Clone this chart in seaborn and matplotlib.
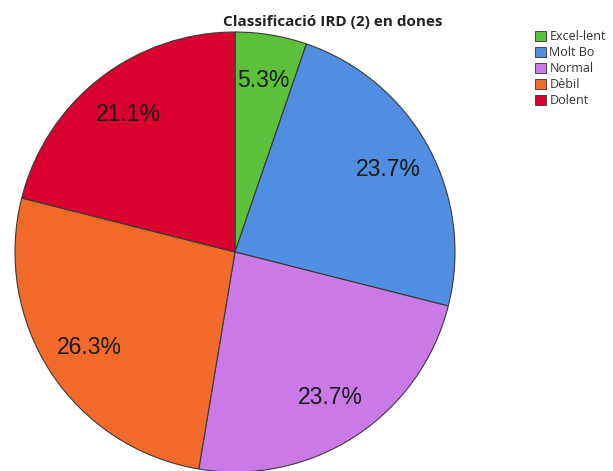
import matplotlib
matplotlib.use("Agg")
import matplotlib.pyplot as plt
from matplotlib.patches import Rectangle
import seaborn as sns

# Classification counts (women)
categories = ["Excel-lent", "Molt Bo", "Normal", "Dèbil", "Dolent"]
counts = [2, 9, 9, 10, 8]
colors = ["#5cc13a", "#4f8ee0", "#c97ae6", "#f26a2a", "#d9002f"]
title = "Classificació IRD (2) en dones"

sns.set_theme(style="white")
plt.rcParams["font.family"] = ["Liberation Sans", "DejaVu Sans"]

fig = plt.figure(figsize=(6.13, 4.71), dpi=100)
ax = fig.add_axes([15 / 613, -1 / 471, 440 / 613, 440 / 471])

wedges, texts, autotexts = ax.pie(
    counts,
    colors=colors,
    startangle=90,
    counterclock=False,
    autopct="%1.1f%%",
    pctdistance=0.79,
    wedgeprops=dict(edgecolor="#3a3a3a", linewidth=0.8),
    textprops=dict(fontsize=16.5, color="#1a1a1a"),
)
ax.set_xlim(-1, 1)
ax.set_ylim(-1, 1)
ax.set_aspect("equal")
ax.axis("off")

fig.text(333 / 613, 1 - 22 / 471, title, ha="center", va="center",
         fontsize=11, fontweight="bold", family=["Open Sans", "DejaVu Sans"],
         color="#222222")

handles = [Rectangle((0, 0), 1, 1, facecolor=c, edgecolor="#333333", linewidth=0.6)
           for c in colors]
fig.legend(handles, categories, loc="upper left",
           bbox_to_anchor=(535 / 613, 1 - 30 / 471), frameon=False,
           handlelength=0.85, handleheight=0.85, handletextpad=0.3,
           labelspacing=0.25, borderaxespad=0, borderpad=0,
           prop=dict(family=["Open Sans", "DejaVu Sans"], size=9))
for t in fig.legends[0].get_texts():
    t.set_color("#333333")

fig.savefig("out.png", dpi=100)
